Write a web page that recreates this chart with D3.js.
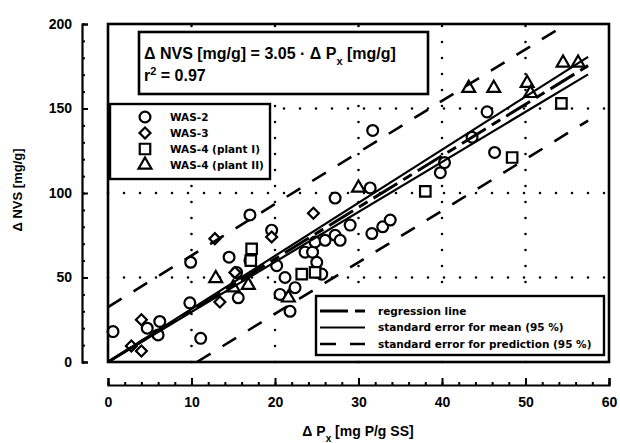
<!DOCTYPE html>
<html>
<head>
<meta charset="utf-8">
<script src="https://cdn.jsdelivr.net/npm/d3@7"></script>
<style>
  body { margin: 0; background: #fff; }
  text { font-family: "Liberation Sans", Arial, sans-serif; font-weight: bold; fill: #000; }
  .legend-text { font-family: "DejaVu Sans", sans-serif; }
</style>
</head>
<body>
<svg id="chart" width="620" height="443"></svg>
<script>
// ΔP_x [mg P/g SS] vs ΔNVS [mg/g] for each sludge
const was2 = [
  [0.6, 18], [4.7, 20], [6.2, 24], [6.0, 16], [11.1, 14], [9.8, 35], [9.9, 59],
  [14.5, 62], [17.0, 87], [15.4, 53], [15.6, 38], [17.0, 60], [20.2, 57],
  [21.2, 50], [22.4, 44], [20.6, 40], [21.8, 30], [23.6, 65], [24.5, 65],
  [25.0, 59], [25.6, 52], [24.8, 71], [26.0, 72], [27.2, 75], [27.8, 72],
  [19.6, 78], [27.2, 97], [31.4, 103], [31.7, 137], [29.0, 81], [31.6, 76],
  [32.9, 80], [33.8, 84], [39.8, 112], [40.3, 118], [43.6, 133], [45.4, 148],
  [46.3, 124]
];
const was3 = [
  [2.8, 9.5], [4.0, 6.5], [4.0, 25], [12.8, 73], [13.4, 35.5], [15.2, 53],
  [19.6, 74], [24.6, 88]
];
const was4PlantI = [
  [17.2, 67], [17.1, 60], [23.2, 52], [24.8, 53], [38.0, 101], [48.4, 121], [54.3, 153]
];
const was4PlantII = [
  [12.9, 49.5], [16.8, 45.5], [15.0, 44], [21.6, 38], [30.0, 103], [43.2, 162],
  [46.2, 162], [50.2, 165], [50.6, 159], [54.5, 177], [56.3, 177]
];

// fitted model: ΔNVS = 3.05 · ΔPx, with 95 % bands
const slope = 3.05;
const meanBandSlopes = [2.96, 3.14];
const predictionOffset = 32.5;
const fitRange = [0, 57.5];

const xTicks = [0, 10, 20, 30, 40, 50, 60];
const yTicks = [0, 50, 100, 150, 200];
const xGrid = [10, 20, 30, 40, 50];
const yGrid = [50, 100, 150];

const seriesNames = ["WAS-2", "WAS-3", "WAS-4 (plant I)", "WAS-4 (plant II)"];
const lineLegend = ["regression line", "standard error for mean (95 %)", "standard error for prediction (95 %)"];

const svg = d3.select("#chart");
const x = d3.scaleLinear().domain([0, 60]).range([108, 609]);
const y = d3.scaleLinear().domain([0, 200]).range([362, 24]);

const regDash = "28,7,10,7";
const predDash = "16,14";

// dotted grid
const grid = svg.append("g").attr("stroke", "#000").attr("stroke-width", 2.6)
  .attr("stroke-linecap", "round").attr("stroke-dasharray", "0,16");
grid.selectAll("line.v").data(xGrid).join("line")
  .attr("x1", d => x(d)).attr("x2", d => x(d)).attr("y1", y(0)).attr("y2", y(200));
grid.selectAll("line.h").data(yGrid).join("line")
  .attr("y1", d => y(d)).attr("y2", d => y(d)).attr("x1", x(0)).attr("x2", x(60));

// markers
const shapes = [
  { data: was2, type: d3.symbolCircle, size: 92, rot: 0 },
  { data: was3, type: d3.symbolSquare, size: 60, rot: 45 },
  { data: was4PlantI, type: d3.symbolSquare, size: 110, rot: 0 },
  { data: was4PlantII, type: d3.symbolTriangle, size: 72, rot: 0 }
];
shapes.forEach(s => {
  svg.append("g").selectAll("path").data(s.data).join("path")
    .attr("d", d3.symbol().type(s.type).size(s.size))
    .attr("transform", d => `translate(${x(d[0])},${y(d[1])}) rotate(${s.rot})`)
    .attr("fill", "#fff").attr("stroke", "#000").attr("stroke-width", 2.2);
});

// fit lines
const lineGen = d3.line().x(d => x(d[0])).y(d => y(d[1]));
function drawLine(pts, width, dash) {
  svg.append("path").attr("d", lineGen(pts)).attr("fill", "none")
    .attr("stroke", "#000").attr("stroke-width", width)
    .attr("stroke-dasharray", dash || null);
}
meanBandSlopes.forEach(b => drawLine(fitRange.map(v => [v, b * v]), 2.2));
drawLine(fitRange.map(v => [v, slope * v]), 3, regDash);
const upX1 = (200 - predictionOffset) / slope;
drawLine([[0, predictionOffset], [upX1, 200]], 2.6, predDash);
const loX0 = predictionOffset / slope;
drawLine([[loX0, 0], [fitRange[1], slope * fitRange[1] - predictionOffset]], 2.6, predDash);

// plot frame
svg.append("rect").attr("x", x(0)).attr("y", y(200))
  .attr("width", x(60) - x(0)).attr("height", y(0) - y(200))
  .attr("fill", "none").attr("stroke", "#000").attr("stroke-width", 2.6);

// offset axes
const yAxisX = 82, xAxisY = 385;
const yAx = svg.append("g").attr("transform", `translate(${yAxisX},0)`)
  .call(d3.axisLeft(y).tickValues(yTicks).tickSizeInner(-6).tickSizeOuter(-6).tickPadding(10));
svg.append("g").attr("transform", `translate(${yAxisX},0)`)
  .call(d3.axisLeft(y).tickValues(d3.range(0, 201, 10)).tickSizeInner(-3).tickSizeOuter(0).tickFormat(""))
  .select(".domain").remove();
const xAx = svg.append("g").attr("transform", `translate(0,${xAxisY})`)
  .call(d3.axisBottom(x).tickValues(xTicks).tickSizeInner(-7).tickSizeOuter(-7).tickPadding(12));
svg.append("g").attr("transform", `translate(0,${xAxisY})`)
  .call(d3.axisBottom(x).tickValues(d3.range(0, 61, 2)).tickSizeInner(-3).tickSizeOuter(0).tickFormat(""))
  .select(".domain").remove();
svg.selectAll(".domain").attr("stroke-width", 2.2);
svg.selectAll(".tick line").attr("stroke-width", 2);
[yAx, xAx].forEach(a => a.selectAll("text").style("font-size", "14px")
  .style("font-family", "'Liberation Sans', Arial, sans-serif").style("font-weight", "bold"));

// axis titles
const xt = svg.append("text").attr("x", 358).attr("y", 436).attr("text-anchor", "middle")
  .style("font-size", "14px");
xt.append("tspan").text("Δ P");
xt.append("tspan").attr("baseline-shift", "sub").style("font-size", "10px").text("x");
xt.append("tspan").text(" [mg P/g SS]");
svg.append("text").attr("transform", "translate(22,190) rotate(-90)")
  .attr("text-anchor", "middle").style("font-size", "13px").text("Δ NVS [mg/g]");

// equation box
svg.append("rect").attr("x", 139).attr("y", 32).attr("width", 289).attr("height", 62)
  .attr("fill", "#fff").attr("stroke", "#000").attr("stroke-width", 2.6);
const eq = svg.append("text").attr("x", 144).attr("y", 59).style("font-size", "16px");
eq.append("tspan").text("Δ NVS [mg/g] = 3.05 · Δ P");
eq.append("tspan").attr("baseline-shift", "sub").style("font-size", "11px").text("x");
eq.append("tspan").attr("baseline-shift", "0").text(" [mg/g]");
const r2 = svg.append("text").attr("x", 144).attr("y", 81).style("font-size", "16px");
r2.append("tspan").text("r");
r2.append("tspan").attr("baseline-shift", "super").style("font-size", "11px").text("2");
r2.append("tspan").text(" = 0.97");

// marker legend
svg.append("rect").attr("x", 110).attr("y", 104).attr("width", 160).attr("height", 75)
  .attr("fill", "#fff").attr("stroke", "#000").attr("stroke-width", 2.4);
const mleg = svg.append("g").selectAll("g").data(seriesNames).join("g")
  .attr("transform", (d, i) => `translate(0,${117 + i * 16})`);
mleg.append("path")
  .attr("d", (d, i) => d3.symbol().type(shapes[i].type).size(shapes[i].size)())
  .attr("transform", (d, i) => `translate(145,0) rotate(${shapes[i].rot})`)
  .attr("fill", "#fff").attr("stroke", "#000").attr("stroke-width", 2.2);
mleg.append("text").attr("class", "legend-text").attr("x", 170).attr("dy", "0.35em")
  .style("font-size", "10.5px").text(d => d);

// line legend
svg.append("rect").attr("x", 316).attr("y", 296).attr("width", 288).attr("height", 59)
  .attr("fill", "#fff").attr("stroke", "#000").attr("stroke-width", 2.4);
const lleg = svg.append("g").selectAll("g").data(lineLegend).join("g")
  .attr("transform", (d, i) => `translate(0,${311 + i * 16.5})`);
const legendDash = [regDash, null, predDash];
const legendWidth = [3, 2.2, 2.6];
lleg.append("line").attr("x1", 320).attr("x2", 365)
  .attr("stroke", "#000").attr("stroke-width", (d, i) => legendWidth[i])
  .attr("stroke-dasharray", (d, i) => legendDash[i]);
lleg.append("text").attr("class", "legend-text").attr("x", 378).attr("dy", "0.35em")
  .style("font-size", "10.5px").text(d => d);
</script>
</body>
</html>
